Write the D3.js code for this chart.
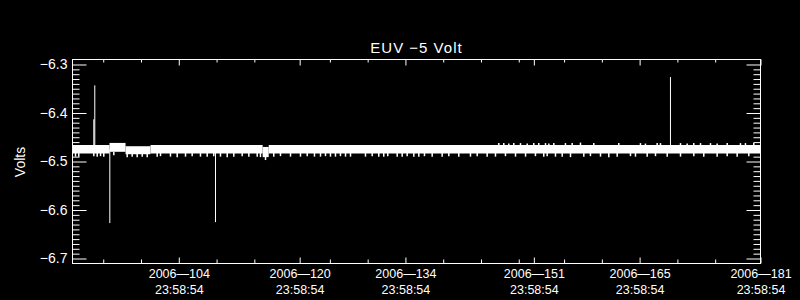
<!DOCTYPE html>
<html>
<head>
<meta charset="utf-8">
<script src="https://cdn.jsdelivr.net/npm/d3@7"></script>
<style>
  body { margin: 0; background: #000; }
  svg { display: block; }
  text { fill: #fff; font-family: "Liberation Sans", Arial, sans-serif; }
</style>
</head>
<body>
<script>

// EUV -5 Volt housekeeping plot, white on black

// time is in days since 2006-01-01 00:00 UT
const xStart = 89.93;
const xEnd = 180.9992;

// major x ticks and their two-line labels
const tickDays = [103.9992, 119.9992, 133.9992, 150.9992, 164.9992, 180.9992];
const tickDates = ["2006\u2014104", "2006\u2014120", "2006\u2014134", "2006\u2014151", "2006\u2014165", "2006\u2014181"];
const tickTimes = ["23:58:54", "23:58:54", "23:58:54", "23:58:54", "23:58:54", "23:58:54"];
const minorDays = [94, 99, 109, 114, 124, 129, 139, 144, 149, 155, 160, 170, 175];

// y ticks
const yTicks = [-6.7, -6.6, -6.5, -6.4, -6.3];

// the dense trace: band of values per time segment
const bandStart = [89.93, 94.83, 96.95, 100.25, 115.10, 115.90];
const bandEnd   = [94.83, 96.95, 100.25, 115.10, 115.90, 180.9992];
const bandHigh  = [-6.466, -6.4617, -6.4685, -6.466, -6.470, -6.466];
const bandLow   = [-6.4835, -6.480, -6.485, -6.4835, -6.491, -6.4835];

// short dips below the band [day, volts]
const dips = [
  [90.33, -6.490], [90.76, -6.490], [92.75, -6.489], [93.20, -6.490], [93.64, -6.489],
  [94.07, -6.490], [95.40, -6.487], [97.17, -6.491], [97.83, -6.490],
  [98.49, -6.491], [99.16, -6.490], [99.82, -6.491], [101.14, -6.490], [101.58, -6.489],
  [102.90, -6.490], [103.79, -6.491], [104.89, -6.490], [105.77, -6.489], [106.87, -6.490],
  [107.76, -6.490], [108.63, -6.489], [109.52, -6.490], [110.41, -6.491], [111.28, -6.490],
  [112.39, -6.489], [113.27, -6.490], [114.38, -6.490], [114.81, -6.491], [115.48, -6.497],
  [116.57, -6.490], [117.46, -6.489], [118.79, -6.490], [120.11, -6.490], [121.00, -6.489],
  [121.96, -6.490], [122.76, -6.490], [123.42, -6.489], [124.08, -6.490], [124.74, -6.490],
  [125.40, -6.489], [126.07, -6.490], [126.73, -6.490], [128.71, -6.490], [129.60, -6.489],
  [130.47, -6.490], [131.13, -6.490], [131.66, -6.489], [132.91, -6.490], [133.57, -6.490],
  [134.23, -6.489], [135.11, -6.490], [135.77, -6.490], [136.52, -6.489], [137.54, -6.490],
  [138.86, -6.490], [139.74, -6.489], [141.06, -6.490], [142.61, -6.490], [143.50, -6.489],
  [144.82, -6.490], [145.92, -6.490], [147.24, -6.489], [148.57, -6.490], [149.90, -6.490],
  [151.21, -6.489], [152.31, -6.490], [152.76, -6.489], [153.86, -6.490], [154.75, -6.490],
  [155.85, -6.491], [157.61, -6.490], [158.49, -6.489], [159.82, -6.490], [160.92, -6.491],
  [162.03, -6.490], [163.79, -6.489], [164.45, -6.490], [166.00, -6.490], [167.10, -6.489],
  [168.65, -6.490], [170.41, -6.490], [172.17, -6.489], [173.49, -6.490], [175.26, -6.490],
  [176.59, -6.489], [177.91, -6.490], [179.45, -6.489]
];

// short bumps above the band [day, volts]
const bumps = [
  [146.36, -6.462], [147.02, -6.462], [147.68, -6.463], [148.34, -6.462], [149.23, -6.462],
  [150.12, -6.463], [150.99, -6.462], [151.65, -6.462], [152.54, -6.462], [152.98, -6.463],
  [153.64, -6.462], [155.18, -6.462], [156.07, -6.462], [157.17, -6.461], [158.93, -6.462],
  [162.24, -6.462], [165.11, -6.462], [165.77, -6.463], [167.32, -6.462], [167.76, -6.462],
  [170.41, -6.462], [171.29, -6.463], [172.17, -6.462], [173.06, -6.462], [174.38, -6.462],
  [175.26, -6.463], [176.59, -6.462], [178.35, -6.462], [179.01, -6.462], [180.11, -6.462]
];

// isolated spikes
const spikeDays   = [92.75, 92.88, 94.87, 108.86, 169.08];
const spikeValues = [-6.413, -6.343, -6.627, -6.625, -6.326];
const spikeBase = -6.475;

const width = 800;
const height = 300;
const margin = {left: 72.5, right: 39.5, top: 59.5, bottom: 36.5};

const svg = d3.select("body")
  .append("svg")
  .attr("width", width)
  .attr("height", height)
  .style("background", "#000");

const x = d3.scaleLinear()
  .domain([xStart, xEnd])
  .range([margin.left, width - margin.right]);

const y = d3.scaleLinear()
  .domain([-6.7103, -6.2897])
  .range([height - margin.bottom, margin.top]);

// data
const plot = svg.append("g");

plot.selectAll(".band")
  .data(bandStart)
  .enter()
  .append("rect")
    .attr("x", (d) => x(d))
    .attr("width", (d, i) => x(bandEnd[i]) - x(d))
    .attr("y", (d, i) => y(bandHigh[i]))
    .attr("height", (d, i) => y(bandLow[i]) - y(bandHigh[i]))
    .attr("fill", "#fff");

plot.selectAll(".dip")
  .data(dips)
  .enter()
  .append("line")
    .attr("x1", (d) => x(d[0]))
    .attr("x2", (d) => x(d[0]))
    .attr("y1", y(-6.480))
    .attr("y2", (d) => y(d[1]))
    .attr("stroke", "#fff")
    .attr("stroke-width", 1.5);

plot.selectAll(".bump")
  .data(bumps)
  .enter()
  .append("line")
    .attr("x1", (d) => x(d[0]))
    .attr("x2", (d) => x(d[0]))
    .attr("y1", y(-6.468))
    .attr("y2", (d) => y(d[1]))
    .attr("stroke", "#fff")
    .attr("stroke-width", 1.5);

plot.selectAll(".spike")
  .data(spikeDays)
  .enter()
  .append("line")
    .attr("x1", (d) => x(d))
    .attr("x2", (d) => x(d))
    .attr("y1", y(spikeBase))
    .attr("y2", (d, i) => y(spikeValues[i]))
    .attr("stroke", "#fff")
    .attr("stroke-width", 1);

// axes, ticks point inward on all four sides
function styleAxis(g) {
  g.select(".domain").remove();
  g.selectAll("line").attr("stroke", "#fff");
}

const yMinor = d3.range(-6.70, -6.295, 0.01)
  .filter((v) => yTicks.every((t) => Math.abs(t - v) > 0.001));

svg.append("g")
  .attr("transform", `translate(${margin.left},0)`)
  .call(d3.axisLeft(y).tickValues(yTicks).tickSize(-14).tickPadding(5)
    .tickFormat((d) => d3.format(".1f")(d)))
  .call(styleAxis)
  .selectAll("text")
    .attr("font-size", "14px")
    .attr("font-family", "Liberation Sans, Arial, sans-serif")
    .attr("fill", "#fff");

svg.append("g")
  .attr("transform", `translate(${margin.left},0)`)
  .call(d3.axisLeft(y).tickValues(yMinor).tickSize(-7).tickFormat(""))
  .call(styleAxis);

svg.append("g")
  .attr("transform", `translate(${width - margin.right},0)`)
  .call(d3.axisRight(y).tickValues(yTicks).tickSize(-14).tickFormat(""))
  .call(styleAxis);

svg.append("g")
  .attr("transform", `translate(${width - margin.right},0)`)
  .call(d3.axisRight(y).tickValues(yMinor).tickSize(-7).tickFormat(""))
  .call(styleAxis);

const xBottom = svg.append("g")
  .attr("transform", `translate(0,${height - margin.bottom})`)
  .call(d3.axisBottom(x).tickValues(tickDays).tickSize(-6).tickFormat(""))
  .call(styleAxis);

xBottom.selectAll(".tick")
  .append("text")
    .attr("text-anchor", "middle")
    .attr("font-size", "12.5px")
    .attr("font-family", "Liberation Sans, Arial, sans-serif")
    .attr("fill", "#fff")
    .each(function(d, i) {
      const t = d3.select(this);
      t.append("tspan").attr("x", 0).attr("y", 14.5).text(tickDates[i]);
      t.append("tspan").attr("x", 0).attr("y", 30).text(tickTimes[i]);
    });

svg.append("g")
  .attr("transform", `translate(0,${height - margin.bottom})`)
  .call(d3.axisBottom(x).tickValues(minorDays).tickSize(-4).tickFormat(""))
  .call(styleAxis);

svg.append("g")
  .attr("transform", `translate(0,${margin.top})`)
  .call(d3.axisTop(x).tickValues(tickDays).tickSize(-6).tickFormat(""))
  .call(styleAxis);

svg.append("g")
  .attr("transform", `translate(0,${margin.top})`)
  .call(d3.axisTop(x).tickValues(minorDays).tickSize(-3).tickFormat(""))
  .call(styleAxis);

// frame
svg.append("rect")
  .attr("x", margin.left)
  .attr("y", margin.top)
  .attr("width", width - margin.right - margin.left)
  .attr("height", height - margin.bottom - margin.top)
  .attr("fill", "none")
  .attr("stroke", "#fff")
  .attr("stroke-width", 1);

// title and y label
svg.append("text")
  .attr("x", (margin.left + width - margin.right) / 2)
  .attr("y", 53)
  .attr("text-anchor", "middle")
  .attr("font-size", "15px")
  .attr("letter-spacing", "1px")
  .text("EUV \u22125 Volt");

svg.append("text")
  .attr("transform", "translate(25,162) rotate(-90)")
  .attr("text-anchor", "middle")
  .attr("font-size", "14px")
  .text("Volts");

</script>
</body>
</html>
